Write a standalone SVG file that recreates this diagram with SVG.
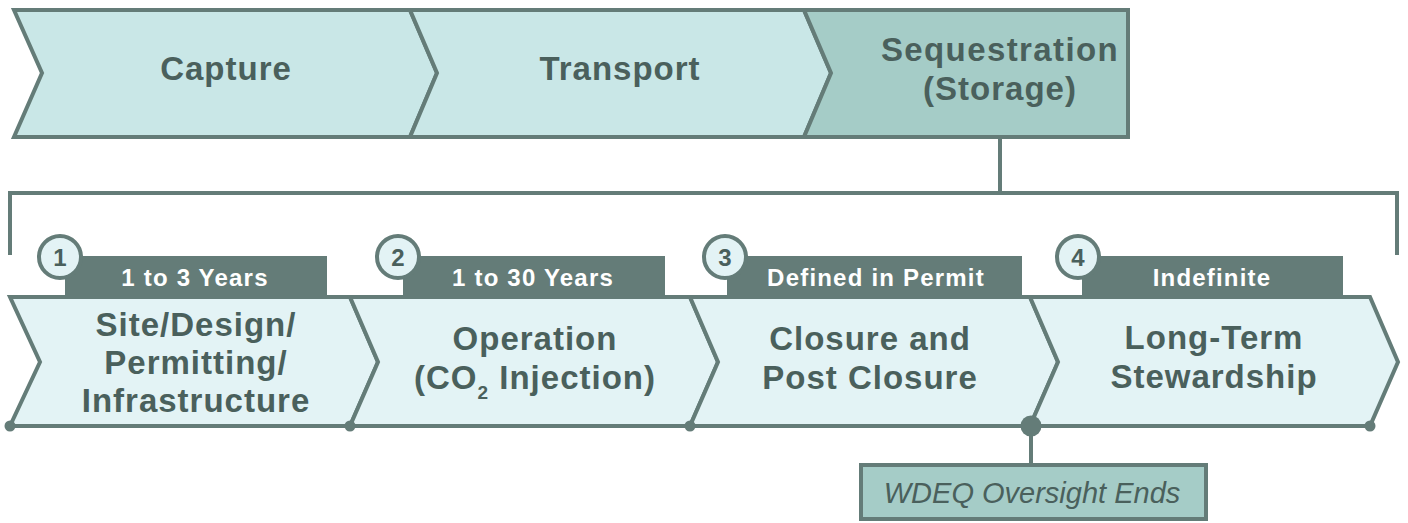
<svg xmlns="http://www.w3.org/2000/svg" width="1408" height="523" viewBox="0 0 1408 523">
<style>
.ln{fill:none;stroke:#647c78;stroke-width:4}
.top{fill:#c9e7e7;stroke:#647c78;stroke-width:4;stroke-linejoin:miter}
.seq{fill:#a5ccc7;stroke:#647c78;stroke-width:4}
.bot{fill:#e3f3f5;stroke:#647c78;stroke-width:4}
.bar{fill:#647c78}
.badge{fill:#e3f3f5;stroke:#647c78;stroke-width:4}
.dot{fill:#647c78}
.t{font-family:"Liberation Sans",Arial,sans-serif;font-weight:bold;fill:#4a605c;text-anchor:middle;font-size:33px;letter-spacing:1px}
.lab{font-family:"Liberation Sans",Arial,sans-serif;font-weight:bold;fill:#ffffff;font-size:24px;letter-spacing:1.2px;text-anchor:middle}
.num{font-family:"Liberation Sans",Arial,sans-serif;font-weight:bold;fill:#4a605c;font-size:24px;text-anchor:middle}
.note{font-family:"Liberation Sans",Arial,sans-serif;font-style:italic;fill:#4a605c;font-size:29px;text-anchor:middle}
</style>
<g id="connectors">
<path class="ln" d="M1000,137 V193 M10,255 V193 H1397 V255" stroke-width="3"/>
<path class="ln" d="M1031,426 V465"/>
</g>
<g id="capture">
<path class="top" d="M14,10 H410 L437,73 L410,137 H14 L42,73 Z"/>
<text class="t" x="226" y="80">Capture</text>
</g>
<g id="transport">
<path class="top" d="M410,10 H804 L831,73 L804,137 H410 L437,73 Z"/>
<text class="t" x="620" y="80">Transport</text>
</g>
<g id="sequestration">
<path class="seq" d="M804,10 H1128 V137 H804 L831,73 Z"/>
<text class="t" x="1000" y="61" style="letter-spacing:1.4px">Sequestration</text>
<text class="t" x="1000" y="100">(Storage)</text>
</g>
<g id="bars">
<rect class="bar" x="65" y="256" width="262" height="41"/>
<rect class="bar" x="403" y="256" width="262" height="41"/>
<rect class="bar" x="727" y="256" width="295" height="41"/>
<rect class="bar" x="1082" y="256" width="261" height="41"/>
<text class="lab" x="195" y="286">1 to 3 Years</text>
<text class="lab" x="533" y="286">1 to 30 Years</text>
<text class="lab" x="876" y="286">Defined in Permit</text>
<text class="lab" x="1212" y="286">Indefinite</text>
</g>
<g id="phase1">
<path class="bot" d="M10,297 H350 L378,362 L350,426 H10 L40,362 Z"/>
<text class="t" x="196" y="336">Site/Design/</text>
<text class="t" x="196" y="374">Permitting/</text>
<text class="t" x="196" y="412">Infrastructure</text>
</g>
<g id="phase2">
<path class="bot" d="M350,297 H690 L718,362 L690,426 H350 L378,362 Z"/>
<text class="t" x="535" y="350">Operation</text>
<text class="t" x="535" y="389">(CO<tspan font-size="19" dy="10">2</tspan><tspan dy="-10"> Injection)</tspan></text>
</g>
<g id="phase3">
<path class="bot" d="M690,297 H1030 L1058,362 L1030,426 H690 L718,362 Z"/>
<text class="t" x="870" y="350">Closure and</text>
<text class="t" x="870" y="389">Post Closure</text>
</g>
<g id="phase4">
<path class="bot" d="M1030,297 H1370 L1398,362 L1370,426 H1030 L1058,362 Z"/>
<text class="t" x="1214" y="349">Long-Term</text>
<text class="t" x="1214" y="388">Stewardship</text>
</g>
<g id="badges">
<circle class="badge" cx="60" cy="257" r="21"/>
<text class="num" x="60" y="266">1</text>
<circle class="badge" cx="398" cy="257" r="21"/>
<text class="num" x="398" y="266">2</text>
<circle class="badge" cx="725" cy="257" r="21"/>
<text class="num" x="725" y="266">3</text>
<circle class="badge" cx="1078" cy="257" r="21"/>
<text class="num" x="1078" y="266">4</text>
</g>
<g id="dots">
<circle class="dot" cx="10" cy="426" r="5.5"/>
<circle class="dot" cx="350" cy="426" r="5.5"/>
<circle class="dot" cx="690" cy="426" r="5.5"/>
<circle class="dot" cx="1031" cy="426" r="10.5"/>
<circle class="dot" cx="1370" cy="426" r="5.5"/>
</g>
<g id="wdeq">
<rect class="seq" x="861" y="465" width="345" height="54"/>
<text class="note" x="1032" y="503">WDEQ Oversight Ends</text>
</g>
</svg>
